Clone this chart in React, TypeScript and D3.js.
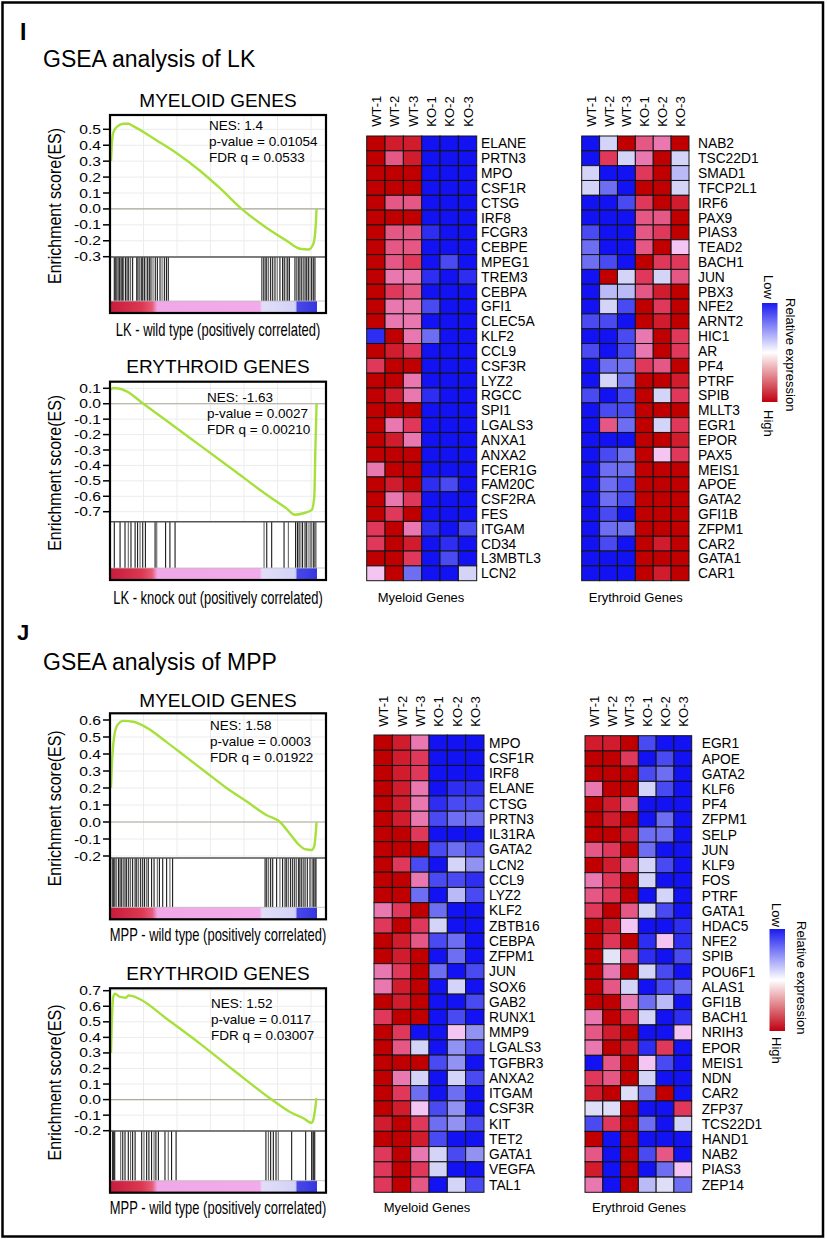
import React from "react";
import * as d3 from "d3";

const SANS = "'Liberation Sans', Arial, Helvetica, sans-serif";

const samples = ["WT-1", "WT-2", "WT-3", "KO-1", "KO-2", "KO-3"];

// ---------- GSEA running enrichment scores: [rank fraction, ES] ----------
const lkMyeloidES: [number, number][] = [
  [0, 0.3], [0.003, 0.38], [0.011, 0.48], [0.028, 0.515], [0.06, 0.535], [0.084, 0.535], [0.108, 0.52],
  [0.222, 0.43], [0.319, 0.35], [0.432, 0.24], [0.529, 0.13], [0.634, 0.0], [0.756, -0.12],
  [0.853, -0.2], [0.917, -0.25], [0.958, -0.255], [0.982, -0.22], [0.994, -0.1], [0.998, 0.0],
];
const lkErythroidES: [number, number][] = [
  [0, 0.09], [0.008, 0.1], [0.028, 0.1], [0.076, 0.08], [0.157, 0.0], [0.27, -0.11], [0.432, -0.27],
  [0.594, -0.43], [0.756, -0.59], [0.853, -0.68], [0.893, -0.72], [0.934, -0.71], [0.974, -0.69],
  [0.987, -0.6], [0.992, -0.3], [0.998, 0.0],
];
const mppMyeloidES: [number, number][] = [
  [0, 0.2], [0.003, 0.3], [0.015, 0.5], [0.031, 0.57], [0.06, 0.595], [0.108, 0.59], [0.173, 0.555],
  [0.27, 0.47], [0.367, 0.38], [0.464, 0.29], [0.561, 0.2], [0.659, 0.12], [0.756, 0.04], [0.82, 0.0],
  [0.869, -0.07], [0.909, -0.13], [0.942, -0.16], [0.974, -0.165], [0.987, -0.14], [0.998, 0.0],
];
const mppErythroidES: [number, number][] = [
  [0, 0.3], [0.003, 0.45], [0.011, 0.66], [0.019, 0.68], [0.044, 0.66], [0.073, 0.655], [0.084, 0.67],
  [0.105, 0.665], [0.141, 0.645], [0.27, 0.52], [0.432, 0.36], [0.594, 0.19], [0.78, 0.0],
  [0.869, -0.08], [0.934, -0.12], [0.974, -0.15], [0.982, -0.13], [0.992, -0.05], [0.997, 0.01],
];

// ---------- gene-set hit positions (rank fraction) ----------
const lkMyeloidHits = [
  0.016, 0.023, 0.029, 0.036, 0.042, 0.049, 0.055, 0.061, 0.07, 0.078, 0.086, 0.095, 0.105, 0.125, 0.131,
  0.139, 0.147, 0.154, 0.162, 0.17, 0.178, 0.186, 0.194, 0.204, 0.215, 0.225, 0.238, 0.248, 0.259, 0.269,
  0.278, 0.731, 0.739, 0.748, 0.756, 0.765, 0.775, 0.785, 0.796, 0.807, 0.82, 0.833, 0.841, 0.85, 0.858,
  0.866, 0.893, 0.901, 0.909, 0.917, 0.926, 0.934, 0.942, 0.95, 0.958, 0.966, 0.974, 0.982, 0.99,
];
const lkErythroidHits = [
  0.016, 0.044, 0.068, 0.084, 0.097, 0.117, 0.129, 0.141, 0.154, 0.167, 0.214, 0.222, 0.265, 0.286, 0.311,
  0.743, 0.756, 0.78, 0.84, 0.861, 0.896, 0.905, 0.913, 0.922, 0.93, 0.942, 0.95, 0.961, 0.971, 0.982,
  0.99, 0.995,
];
const mppMyeloidHits = [
  0.006, 0.013, 0.019, 0.026, 0.036, 0.044, 0.052, 0.06, 0.068, 0.076, 0.086, 0.095, 0.105, 0.117, 0.125,
  0.134, 0.144, 0.154, 0.163, 0.173, 0.181, 0.197, 0.209, 0.225, 0.235, 0.251, 0.27, 0.286, 0.299,
  0.748, 0.756, 0.765, 0.775, 0.785, 0.804, 0.82, 0.833, 0.845, 0.853, 0.862, 0.872, 0.882, 0.892, 0.901,
  0.911, 0.917, 0.926, 0.934, 0.942, 0.953, 0.966, 0.976, 0.982, 0.99, 0.995,
];
const mppErythroidHits = [
  0.008, 0.013, 0.018, 0.047, 0.057, 0.068, 0.084, 0.095, 0.105, 0.117, 0.149, 0.16, 0.173, 0.184, 0.197,
  0.209, 0.218, 0.23, 0.262, 0.278, 0.294, 0.316, 0.752, 0.764, 0.775, 0.788, 0.801, 0.812, 0.877, 0.945,
  0.974, 0.979, 0.984, 0.989,
];

const lkMyeloidTicks = [0.5, 0.4, 0.3, 0.2, 0.1, 0.0, -0.1, -0.2, -0.3];
const lkErythroidTicks = [0.1, 0.0, -0.1, -0.2, -0.3, -0.4, -0.5, -0.6, -0.7];
const mppMyeloidTicks = [0.6, 0.5, 0.4, 0.3, 0.2, 0.1, 0.0, -0.1, -0.2];
const mppErythroidTicks = [0.7, 0.6, 0.5, 0.4, 0.3, 0.2, 0.1, 0.0, -0.1, -0.2];

const lkMyeloidStats = ["NES: 1.4", "p-value = 0.01054", "FDR q = 0.0533"];
const lkErythroidStats = ["NES: -1.63", "p-value = 0.0027", "FDR q = 0.00210"];
const mppMyeloidStats = ["NES: 1.58", "p-value = 0.0003", "FDR q = 0.01922"];
const mppErythroidStats = ["NES: 1.52", "p-value = 0.0117", "FDR q = 0.03007"];

// ---------- heatmaps (relative expression, -3 low .. 3 high) ----------
const lkMyeloidGenes = ["ELANE", "PRTN3", "MPO", "CSF1R", "CTSG", "IRF8", "FCGR3", "CEBPE", "MPEG1", "TREM3",
  "CEBPA", "GFI1", "CLEC5A", "KLF2", "CCL9", "CSF3R", "LYZ2", "RGCC", "SPI1", "LGALS3", "ANXA1", "ANXA2",
  "FCER1G", "FAM20C", "CSF2RA", "FES", "ITGAM", "CD34", "L3MBTL3", "LCN2"];
const lkMyeloidValues = [
  [3, 2.5, 2.5, -3, -3, -3], [3, 1.5, 2.5, -3, -3, -3], [3, 3, 3, -3, -3, -3], [3, 3, 3, -3, -3, -3],
  [3, 1.5, 1.5, -3, -3, -3], [3, 3, 3, -3, -3, -3], [3, 1.5, 1.5, -2.5, -3, -3], [3, 1.5, 1.5, -3, -3, -3],
  [3, 1.5, 2, -3, -2, -3], [3, 1, 1, -2.5, -3, -2.5], [3, 2, 1.5, -3, -3, -3], [3, 1, 1, -2, -3, -3],
  [3, 1, 1, -3, -3, -3], [-2.5, 3, 1, -1.5, -3, -3], [3, 2.5, 2, -3, -3, -3], [2, 3, 3, -3, -3, -3],
  [3, 3, 1, -3, -3, -3], [3, 2.5, 1, -2.5, -3, -3], [3, 3, 3, -3, -3, -3], [3, 1, 2, -3, -3, -3],
  [3, 2.5, 1, -3, -3, -3], [3, 3, 3, -3, -3, -3], [1, 3, 3, -3, -3, -3], [3, 2.5, 3, -2.5, -2, -3],
  [3, 1, 2, -3, -3, -3], [3, 2, 3, -3, -3, -3], [2, 3, 1, -2.5, -3, -2], [2, 3, 2.5, -3, -2.5, -3],
  [3, 3, 2, -3, -2, -3], [0.5, 3, -1.5, -3, -3, -0.5],
];

const lkErythroidGenes = ["NAB2", "TSC22D1", "SMAD1", "TFCP2L1", "IRF6", "PAX9", "PIAS3", "TEAD2", "BACH1",
  "JUN", "PBX3", "NFE2", "ARNT2", "HIC1", "AR", "PF4", "PTRF", "SPIB", "MLLT3", "EGR1", "EPOR", "PAX5",
  "MEIS1", "APOE", "GATA2", "GFI1B", "ZFPM1", "CAR2", "GATA1", "CAR1"];
const lkErythroidValues = [
  [-3, -0.5, 3, 1.5, 1, 3], [-3, 2, -0.5, 1, 3, -0.5], [-0.5, -3, -3, 2, 3, -0.7], [-0.5, -1.5, -3, 3, 3, -0.5],
  [-3, -3, -2, 2, 3, 2.5], [-3, -3, -3, 1.5, 1.5, 3], [-2, -3, -3, 1.5, 2, 3], [-1.5, -3, -3, 1.5, 3, 0.5],
  [-1.5, -2, -3, 3, 2, 2], [-3, 3, -0.5, 2, -0.5, 1.5], [-3, -0.7, -0.7, 1.5, 2.5, 3], [-3, -0.5, -2, 3, 2, 3],
  [-2, -2, -3, 3, 2.5, 3], [-3, -3, -2, 1, 3, 2], [-2, -3, -2, 1, 3, 2], [-3, -1.5, -1.5, 2, 1.5, 3],
  [-3, -0.5, -1.5, 3, 3, 2.5], [-2, -3, -2, 3, -0.5, 2], [-3, -2, -2, 3, 3, 3], [-3, 1.5, -1.5, 3, -0.5, 2],
  [-3, -3, -3, 3, 3, 2.5], [-3, -2, -1.5, 3, 0.5, 2], [-3, -1.5, -1.5, 3, 3, 3], [-3, -1.5, -2, 3, 3, 3],
  [-3, -1.5, -2, 3, 3, 3], [-3, -2, -3, 3, 3, 3], [-3, -1.5, -1.5, 3, 3, 3], [-3, -2, -3, 3, 2.5, 3],
  [-3, -3, -3, 3, 3, 3], [-3, -3, -3, 3, 2.5, 3],
];

const mppMyeloidGenes = ["MPO", "CSF1R", "IRF8", "ELANE", "CTSG", "PRTN3", "IL31RA", "GATA2", "LCN2", "CCL9",
  "LYZ2", "KLF2", "ZBTB16", "CEBPA", "ZFPM1", "JUN", "SOX6", "GAB2", "RUNX1", "MMP9", "LGALS3", "TGFBR3",
  "ANXA2", "ITGAM", "CSF3R", "KIT", "TET2", "GATA1", "VEGFA", "TAL1"];
const mppMyeloidValues = [
  [3, 2.5, 1, -3, -3, -3], [3, 2.5, 2, -3, -3, -3], [3, 2.5, 2, -3, -3, -3], [3, 2.5, 1, -3, -2.5, -2.5],
  [3, 2.5, 1, -2.5, -2, -2], [3, 2.5, 1, -2, -1.5, -1.5], [3, 3, 2, -3, -3, -3], [3, 3, 3, -2, -1.5, -2],
  [3, 2, -2, -3, -0.5, -1], [3, 3, 1, -2, -2, -2.5], [3, 3, -1.5, -3, -0.7, -2], [1, 2, 3, -1.5, -3, -3],
  [2, 3, 2, -0.5, -3, -3], [3, 2.5, 1.5, -2, -1.5, -3], [3, 2.5, 3, -3, -1.5, -3], [1, 2, 3, -1.5, -3, -2],
  [1, 2.5, 3, -3, -0.5, -3], [3, 2.5, 3, -3, -3, -2], [2, 3, 3, -3, -2, -3], [3, 2, -3, -3, 0.5, -1],
  [3, 1.5, -0.5, -3, -1, -2], [3, 3, 3, -2, -1, -3], [3, 1, -0.5, -3, -0.5, -2], [3, 2, -1.5, -3, -1.5, -3],
  [3, 2.5, 0.5, -2, -1, -3], [2.5, 3, 2, -1.5, -1, -2], [3, 3, 2.5, -2, -3, -3], [2, 3, 1, -0.5, -2, -1],
  [2, 3, 2, -0.5, -3, -3], [2, 3, 1.5, -3, -0.5, -2],
];

const mppErythroidGenes = ["EGR1", "APOE", "GATA2", "KLF6", "PF4", "ZFPM1", "SELP", "JUN", "KLF9", "FOS",
  "PTRF", "GATA1", "HDAC5", "NFE2", "SPIB", "POU6F1", "ALAS1", "GFI1B", "BACH1", "NRIH3", "EPOR", "MEIS1",
  "NDN", "CAR2", "ZFP37", "TCS22D1", "HAND1", "NAB2", "PIAS3", "ZEP14"];
const mppErythroidValues = [
  [2.5, 2.5, 3, -2, -3, -3], [3, 3, 2, -3, -2, -3], [3, 3, 3, -2, -1.5, -3], [1, 3, 3, -0.5, -2, -3],
  [3, 2.5, 1.5, -3, -3, -3], [3, 2.5, 3, -3, -1.5, -3], [3, 3, 2.5, -1.5, -1.5, -3], [1.5, 2, 3, -1.5, -3, -3],
  [3, 2.5, 1.5, -0.5, -2, -3], [1, 2, 3, -0.5, -3, -3], [1.5, 2, 3, -3, -0.5, -3], [2, 3, 1.5, -0.5, -2, -3],
  [3, 2.5, 0.5, -3, -3, -2.5], [3, 2, 3, -2.5, 0.5, -2.5], [3, -0.2, 1.5, -2.5, -3, -2], [3, 1, 3, -0.5, -2, -3],
  [3, 1.5, -0.5, -3, -2, -1.5], [3, 3, 1, -1.5, -0.7, -3], [1, 3, 2, -0.5, -3, -2.5], [1.5, 2.5, 3, -3, -3, 0.5],
  [1, 3, 2.5, -2.5, 2, -3], [-3, 1.5, 3, 0.5, -2, -3], [2, 1.5, 3, -0.5, -3, -3], [2.5, 3, -0.3, -1.5, 3, -3],
  [-0.3, -0.3, 3, -3, -3, 2], [-2, 2, 3, -1.5, -3, -0.5], [3, -3, 3, -3, -3, -3], [1.5, -3, 3, -2, 1.5, -3],
  [2.5, -3, 3, -3, -1.5, 0.5], [1, -3, 3, -0.7, -0.3, -1.5],
];

// ---------- helpers ----------
const heatColor = d3
  .scaleLinear<string>()
  .domain([-3, -2, -1, -0.5, 0, 0.5, 1, 2, 3])
  .range(["#1212f2", "#4a4af2", "#9292f2", "#d4d4f8", "#eeeefa", "#f4c4f2", "#ea78b0", "#e0385a", "#c00000"])
  .clamp(true);

const fmt = d3.formatLocale({ decimal: ".", thousands: ",", grouping: [3], currency: ["$", ""], minus: "-" }).format(".1f");

const rankStops: [number, string][] = [
  [0, "#c81c3e"], [0.15, "#dc3850"], [0.2, "#e85a78"], [0.225, "#f0a8e8"], [0.72, "#f2aaea"],
  [0.735, "#e2def8"], [0.895, "#d2d2f8"], [0.905, "#4848e8"], [1, "#3636e0"],
];

type PanelCfg = {
  id: string; title: string; titleY: number; top: number; sep: number; bottom: number;
  ticks: number[]; yHi: number; yLo: number; es: [number, number][]; hits: number[];
  stats: string[]; statsX: number; statsY: number; xlabel: string; xlabelY: number;
};

const BOX_L = 110, BOX_R = 326, LIST_R = 317;

function GseaPanel({ p }: { p: PanelCfg }) {
  const x = d3.scaleLinear().domain([0, 1]).range([BOX_L + 1, LIST_R]);
  const y = d3.scaleLinear().domain([p.ticks[p.ticks.length - 1], p.ticks[0]]).range([p.yLo, p.yHi]);
  const line = d3.line<[number, number]>().x((d) => x(d[0])).y((d) => y(d[1])).curve(d3.curveMonotoneX);
  const cbTop = p.bottom - 12;
  const gridX = d3.range(1, 7).map((k) => BOX_L + k * 33.5);
  return (
    <g>
      <text x={(BOX_L + BOX_R) / 2} y={p.titleY} textAnchor="middle" fontFamily={SANS} fontSize={19}>{p.title}</text>
      <defs>
        <linearGradient id={"g" + p.id} x1="0" x2="1" y1="0" y2="0">
          {rankStops.map(([o, c], i) => <stop key={i} offset={o} stopColor={c} />)}
        </linearGradient>
        <clipPath id={"c" + p.id}><rect x={BOX_L} y={p.top} width={BOX_R - BOX_L} height={p.sep - p.top} /></clipPath>
      </defs>
      <rect x={BOX_L} y={p.top} width={BOX_R - BOX_L} height={p.bottom - p.top} fill="#fff" />
      {gridX.map((gx, i) => <line key={i} x1={gx} x2={gx} y1={p.top} y2={p.sep} stroke="#ececec" strokeWidth={1} />)}
      {p.ticks.map((t, i) => <line key={i} x1={BOX_L} x2={BOX_R} y1={y(t)} y2={y(t)} stroke="#ececec" strokeWidth={1} />)}
      <line x1={BOX_L} x2={BOX_R} y1={y(0)} y2={y(0)} stroke="#aaa99a" strokeWidth={1.2} />
      <path d={line(p.es) || ""} fill="none" stroke="#a6e03a" strokeWidth={2.4} clipPath={`url(#c${p.id})`} />
      {p.hits.map((h, i) => (
        <line key={i} x1={x(h)} x2={x(h)} y1={p.sep} y2={cbTop} stroke={i % 4 === 3 ? "#666" : "#1a1a1a"} strokeWidth={1.1} />
      ))}
      <rect x={x(0)} y={cbTop} width={x(1) - x(0)} height={p.bottom - cbTop} fill={`url(#g${p.id})`} />
      <line x1={BOX_L} x2={BOX_R} y1={cbTop} y2={cbTop} stroke="#bbb" strokeWidth={0.8} />
      <line x1={BOX_L} x2={BOX_R} y1={p.sep} y2={p.sep} stroke="#555" strokeWidth={1.6} />
      <rect x={BOX_L} y={p.top} width={BOX_R - BOX_L} height={p.bottom - p.top} fill="none" stroke="#000" strokeWidth={2.2} />
      {p.ticks.map((t, i) => (
        <g key={i}>
          <line x1={BOX_L - 7} x2={BOX_L} y1={y(t)} y2={y(t)} stroke="#000" strokeWidth={1.5} />
          <text transform={`translate(${BOX_L - 9},${y(t) + 4.5}) scale(1.25,1)`} textAnchor="end"
            fontFamily={SANS} fontSize={12.5}>{fmt(t)}</text>
        </g>
      ))}
      {p.stats.map((s, i) => (
        <text key={i} x={p.statsX} y={p.statsY + i * 16} fontFamily={SANS} fontSize={13.5}>{s}</text>
      ))}
      <text transform={`translate(61,${(p.top + p.bottom) / 2 - 8}) rotate(-90) scale(0.84,1)`} textAnchor="middle"
        fontFamily={SANS} fontSize={19}>Enrichment score(ES)</text>
      <text transform={`translate(${(BOX_L + BOX_R) / 2},${p.xlabelY}) scale(0.72,1)`} textAnchor="middle"
        fontFamily={SANS} fontSize={18}>{p.xlabel}</text>
    </g>
  );
}

type HeatCfg = {
  genes: string[]; values: number[][]; left: number; top: number; width: number; height: number;
  labelX: number; colLabelY: number; caption: string; captionX: number; captionY: number;
};

function Heatmap({ h }: { h: HeatCfg }) {
  const x = d3.scaleBand<string>().domain(samples).range([h.left, h.left + h.width]);
  const y = d3.scaleBand<string>().domain(h.genes).range([h.top, h.top + h.height]);
  return (
    <g>
      {samples.map((s) => (
        <text key={s} transform={`translate(${(x(s) as number) + x.bandwidth() / 2 + 5},${h.colLabelY}) rotate(-90)`}
          fontFamily={SANS} fontSize={13}>{s}</text>
      ))}
      {h.genes.map((g, r) =>
        samples.map((s, c) => (
          <rect key={g + s} x={x(s)} y={y(g)} width={x.bandwidth()} height={y.bandwidth()}
            fill={heatColor(h.values[r][c])} stroke="#141414" strokeWidth={1} />
        ))
      )}
      {h.genes.map((g) => (
        <text key={g} x={h.labelX} y={(y(g) as number) + y.bandwidth() / 2 + 5} fontFamily={SANS} fontSize={13.8}>{g}</text>
      ))}
      <text x={h.captionX} y={h.captionY} textAnchor="middle" fontFamily={SANS} fontSize={13}>{h.caption}</text>
    </g>
  );
}

function Legend({ id, barX, barTop, barBottom, lowY, highY, relX, relY, textX }:
  { id: string; barX: number; barTop: number; barBottom: number; lowY: number; highY: number; relX: number; relY: number; textX: number }) {
  return (
    <g>
      <defs>
        <linearGradient id={id} x1="0" x2="0" y1="0" y2="1">
          <stop offset="0" stopColor="#1a1af0" />
          <stop offset="0.5" stopColor="#ffffff" />
          <stop offset="1" stopColor="#c00010" />
        </linearGradient>
      </defs>
      <rect x={barX} y={barTop} width={15.5} height={barBottom - barTop} fill={`url(#${id})`} />
      <text transform={`translate(${textX},${lowY}) rotate(90)`} fontFamily={SANS} fontSize={13}>Low</text>
      <text transform={`translate(${textX},${highY}) rotate(90)`} fontFamily={SANS} fontSize={13}>High</text>
      <text transform={`translate(${relX},${relY}) rotate(90)`} fontFamily={SANS} fontSize={13}>Relative expression</text>
    </g>
  );
}

const panels: PanelCfg[] = [
  { id: "p1", title: "MYELOID GENES", titleY: 107, top: 115, sep: 257, bottom: 313, ticks: lkMyeloidTicks,
    yHi: 129.3, yLo: 256.7, es: lkMyeloidES, hits: lkMyeloidHits, stats: lkMyeloidStats, statsX: 209, statsY: 130,
    xlabel: "LK - wild type (positively correlated)", xlabelY: 336 },
  { id: "p2", title: "ERYTHROID GENES", titleY: 373, top: 381.7, sep: 521.7, bottom: 580, ticks: lkErythroidTicks,
    yHi: 388.3, yLo: 511.7, es: lkErythroidES, hits: lkErythroidHits, stats: lkErythroidStats, statsX: 207, statsY: 401.7,
    xlabel: "LK - knock out (positively correlated)", xlabelY: 604 },
  { id: "p3", title: "MYELOID GENES", titleY: 706.7, top: 713.3, sep: 858, bottom: 919.3, ticks: mppMyeloidTicks,
    yHi: 720, yLo: 856, es: mppMyeloidES, hits: mppMyeloidHits, stats: mppMyeloidStats, statsX: 210, statsY: 730,
    xlabel: "MPP - wild type (positively correlated)", xlabelY: 941 },
  { id: "p4", title: "ERYTHROID GENES", titleY: 980, top: 988.3, sep: 1131, bottom: 1192.7, ticks: mppErythroidTicks,
    yHi: 990.7, yLo: 1130.7, es: mppErythroidES, hits: mppErythroidHits, stats: mppErythroidStats, statsX: 211, statsY: 1008,
    xlabel: "MPP - wild type (positively correlated)", xlabelY: 1214 },
];

const heatmaps: HeatCfg[] = [
  { genes: lkMyeloidGenes, values: lkMyeloidValues, left: 366.7, top: 136, width: 110, height: 444.7, labelX: 481,
    colLabelY: 126.7, caption: "Myeloid Genes", captionX: 421, captionY: 602 },
  { genes: lkErythroidGenes, values: lkErythroidValues, left: 581.7, top: 136, width: 107.3, height: 444.7, labelX: 698,
    colLabelY: 126.7, caption: "Erythroid Genes", captionX: 635.7, captionY: 602 },
  { genes: mppMyeloidGenes, values: mppMyeloidValues, left: 374, top: 735, width: 110, height: 457.3, labelX: 489,
    colLabelY: 726.7, caption: "Myeloid Genes", captionX: 427, captionY: 1212 },
  { genes: mppErythroidGenes, values: mppErythroidValues, left: 585, top: 735.7, width: 106.7, height: 456.6, labelX: 701.7,
    colLabelY: 726.7, caption: "Erythroid Genes", captionX: 639, captionY: 1212 },
];

export default function App() {
  return (
    <svg width={827} height={1239} viewBox="0 0 827 1239"
      style={{ position: "absolute", left: 0, top: 0, background: "#fff" }}>
      <rect x={0} y={0} width={827} height={1239} fill="#fff" />
      <rect x={2.5} y={2.5} width={820.5} height={1234} fill="none" stroke="#000" strokeWidth={2.5} />
      <text x={20} y={40} fontFamily={SANS} fontSize={23} fontWeight="bold">I</text>
      <text x={43} y={67} fontFamily={SANS} fontSize={23}>GSEA analysis of LK</text>
      <text x={17} y={640} fontFamily={SANS} fontSize={22} fontWeight="bold">J</text>
      <text x={43} y={670} fontFamily={SANS} fontSize={23}>GSEA analysis of MPP</text>
      {panels.map((p) => <GseaPanel key={p.id} p={p} />)}
      {heatmaps.map((h, i) => <Heatmap key={i} h={h} />)}
      <Legend id="leg1" barX={762} barTop={303} barBottom={402} lowY={275} highY={410} relX={786} relY={298} textX={764} />
      <Legend id="leg2" barX={769.5} barTop={929} barBottom={1031} lowY={903} highY={1037} relX={797} relY={921} textX={772} />
    </svg>
  );
}
